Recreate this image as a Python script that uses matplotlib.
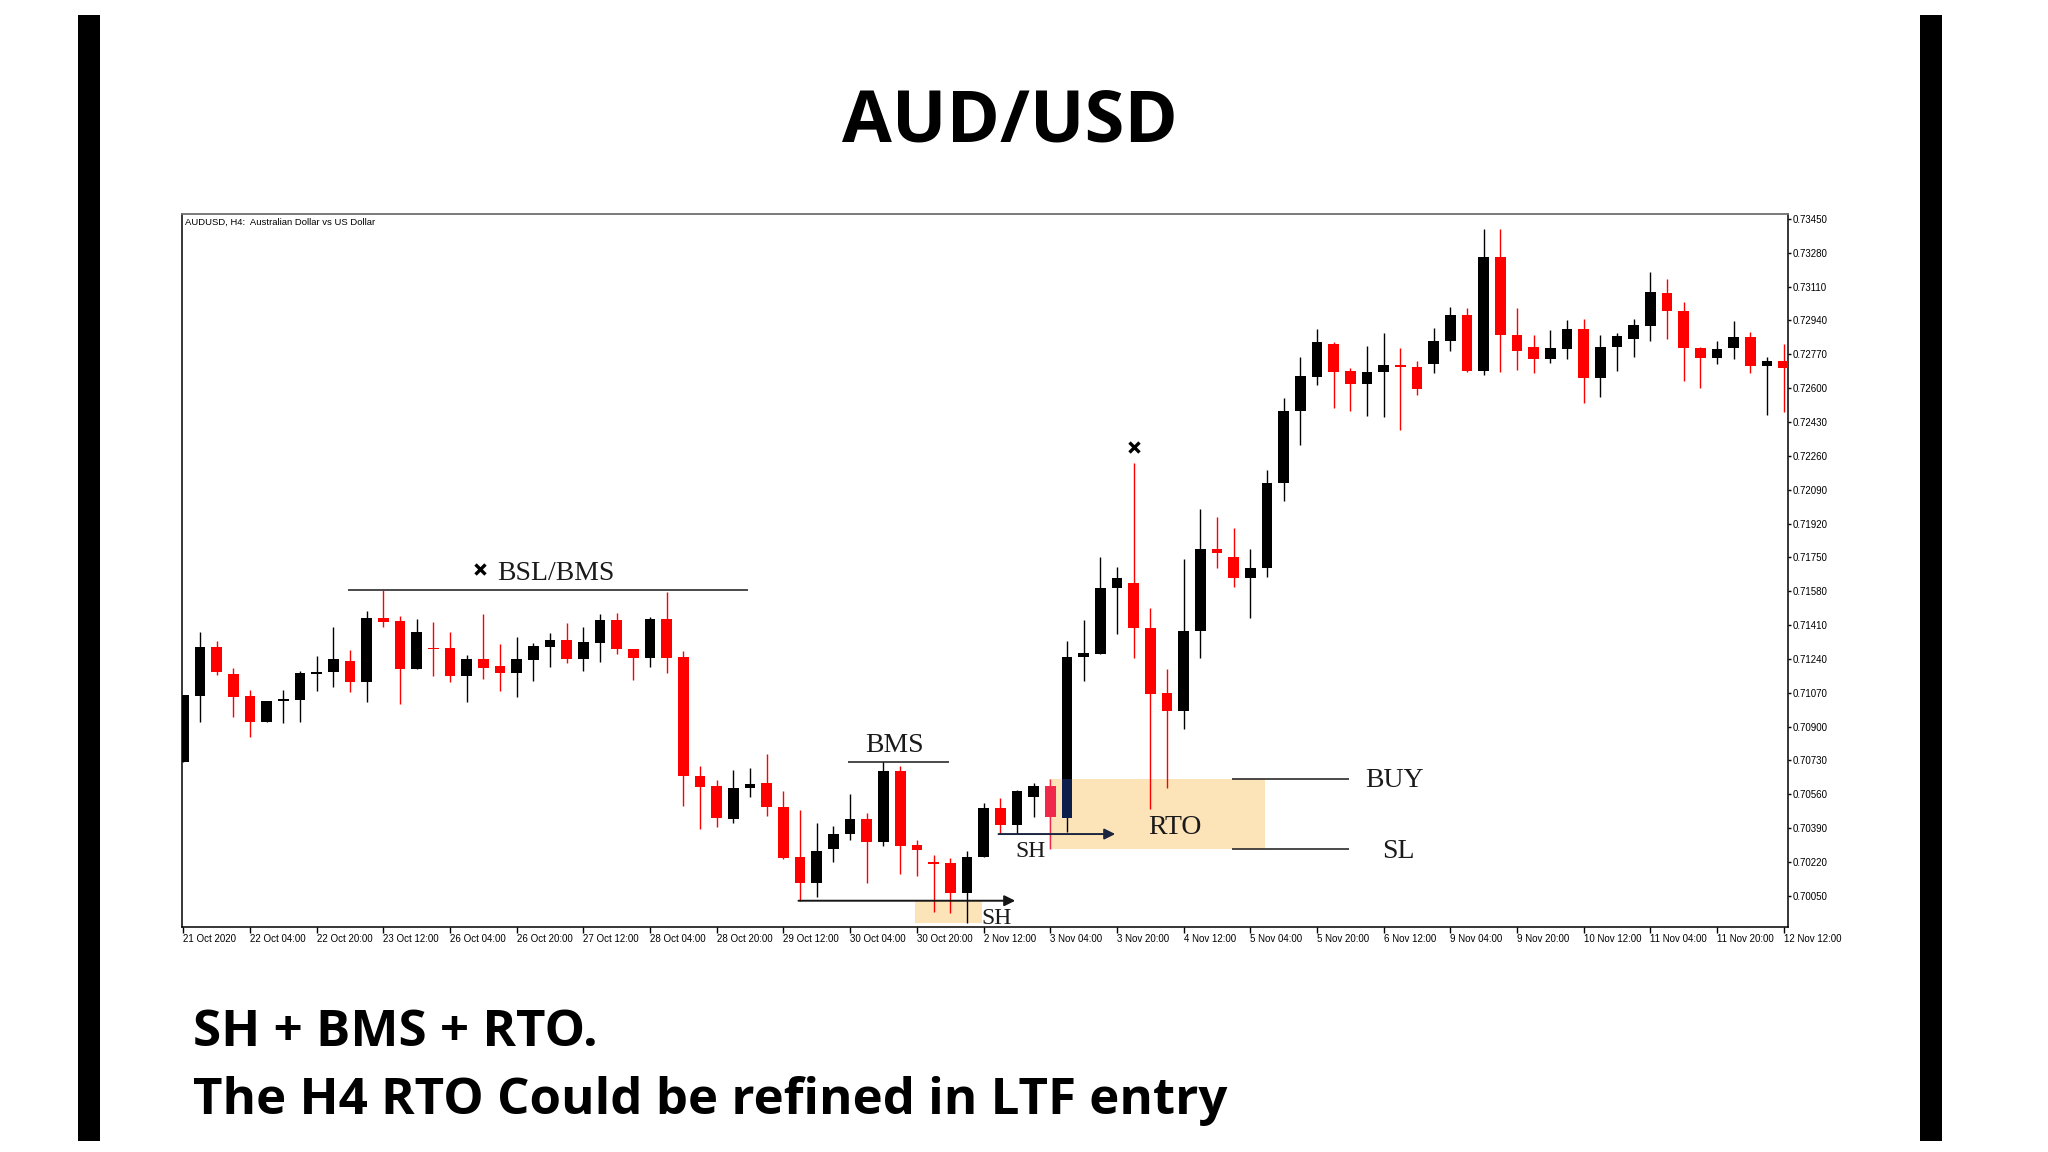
import matplotlib
matplotlib.use('Agg')
import matplotlib.pyplot as plt
from matplotlib.patches import Rectangle

plt.rcParams['font.family'] = ['Liberation Sans', 'DejaVu Sans']

# ---------------- data ----------------
x_labels = ['21 Oct 2020', '22 Oct 04:00', '22 Oct 20:00', '23 Oct 12:00', '26 Oct 04:00',
            '26 Oct 20:00', '27 Oct 12:00', '28 Oct 04:00', '28 Oct 20:00', '29 Oct 12:00',
            '30 Oct 04:00', '30 Oct 20:00', '2 Nov 12:00', '3 Nov 04:00', '3 Nov 20:00',
            '4 Nov 12:00', '5 Nov 04:00', '5 Nov 20:00', '6 Nov 12:00', '9 Nov 04:00',
            '9 Nov 20:00', '10 Nov 12:00', '11 Nov 04:00', '11 Nov 20:00', '12 Nov 12:00']

y_ticks = [0.70050, 0.70220, 0.70390, 0.70560, 0.70730, 0.70900, 0.71070, 0.71240,
           0.71410, 0.71580, 0.71750, 0.71920, 0.72090, 0.72260, 0.72430, 0.72600,
           0.72770, 0.72940, 0.73110, 0.73280, 0.73450]

opens = [0.70723, 0.71053, 0.71298, 0.71162, 0.71053, 0.70921, 0.71028, 0.71033, 0.71164, 0.71172,
         0.71231, 0.71125, 0.71444, 0.71430, 0.71189, 0.71293, 0.71293, 0.71154, 0.71239, 0.71204,
         0.71167, 0.71234, 0.71298, 0.71335, 0.71238, 0.71321, 0.71435, 0.71288, 0.71243, 0.71439,
         0.71248, 0.70653, 0.70601, 0.70434, 0.70590, 0.70618, 0.70498, 0.70246, 0.70112, 0.70285,
         0.70358, 0.70434, 0.70318, 0.70677, 0.70305, 0.70218, 0.70213, 0.70062, 0.70243, 0.70492,
         0.70405, 0.70548, 0.70601, 0.70442, 0.71248, 0.71263, 0.71594, 0.71623, 0.71397, 0.71067,
         0.70980, 0.71380, 0.71790, 0.71754, 0.71648, 0.71695, 0.72123, 0.72484, 0.72654, 0.72822,
         0.72688, 0.72621, 0.72680, 0.72716, 0.72708, 0.72721, 0.72839, 0.72969, 0.72688, 0.73257,
         0.72869, 0.72808, 0.72747, 0.72797, 0.72897, 0.72651, 0.72805, 0.72847, 0.72914, 0.73078,
         0.72989, 0.72802, 0.72752, 0.72800, 0.72855, 0.72710, 0.72738]
highs = [0.71058, 0.71377, 0.71331, 0.71192, 0.71084, 0.71030, 0.71084, 0.71179, 0.71256, 0.71399,
         0.71285, 0.71482, 0.71584, 0.71455, 0.71439, 0.71427, 0.71373, 0.71259, 0.71466, 0.71315,
         0.71352, 0.71318, 0.71372, 0.71419, 0.71399, 0.71466, 0.71472, 0.71290, 0.71449, 0.71574,
         0.71281, 0.70702, 0.70632, 0.70682, 0.70690, 0.70762, 0.70576, 0.70481, 0.70414, 0.70402,
         0.70561, 0.70464, 0.70724, 0.70702, 0.70330, 0.70255, 0.70241, 0.70276, 0.70518, 0.70539,
         0.70581, 0.70615, 0.70635, 0.71330, 0.71435, 0.71750, 0.71703, 0.72222, 0.71494, 0.71189,
         0.71740, 0.71991, 0.71955, 0.71896, 0.71790, 0.72189, 0.72551, 0.72758, 0.72897, 0.72834,
         0.72701, 0.72814, 0.72877, 0.72800, 0.72735, 0.72901, 0.73006, 0.73001, 0.73400, 0.73400,
         0.73001, 0.72869, 0.72892, 0.72943, 0.72948, 0.72869, 0.72876, 0.72948, 0.73182, 0.73149,
         0.73031, 0.72805, 0.72839, 0.72939, 0.72881, 0.72755, 0.72822]
lows = [0.70723, 0.70921, 0.71159, 0.70950, 0.70849, 0.70921, 0.70916, 0.70921, 0.71080, 0.71100,
        0.71072, 0.71022, 0.71402, 0.71013, 0.71189, 0.71154, 0.71122, 0.71025, 0.71137, 0.71080,
        0.71047, 0.71131, 0.71201, 0.71221, 0.71181, 0.71223, 0.71264, 0.71134, 0.71201, 0.71171,
        0.70501, 0.70384, 0.70397, 0.70414, 0.70548, 0.70451, 0.70233, 0.70025, 0.70045, 0.70221,
        0.70330, 0.70112, 0.70300, 0.70159, 0.70151, 0.69970, 0.69962, 0.69915, 0.70243, 0.70360,
        0.70360, 0.70444, 0.70283, 0.70372, 0.71129, 0.71262, 0.71363, 0.71243, 0.70484, 0.70593,
        0.70886, 0.71243, 0.71698, 0.71599, 0.71447, 0.71653, 0.72031, 0.72316, 0.72616, 0.72500,
        0.72487, 0.72458, 0.72453, 0.72390, 0.72567, 0.72676, 0.72788, 0.72680, 0.72668, 0.72680,
        0.72691, 0.72675, 0.72725, 0.72747, 0.72525, 0.72554, 0.72688, 0.72755, 0.72839, 0.72847,
        0.72638, 0.72601, 0.72721, 0.72747, 0.72675, 0.72465, 0.72479]
closes = [0.71058, 0.71298, 0.71176, 0.71050, 0.70921, 0.71030, 0.71037, 0.71167, 0.71172, 0.71238,
          0.71125, 0.71444, 0.71427, 0.71189, 0.71373, 0.71288, 0.71154, 0.71239, 0.71196, 0.71167,
          0.71238, 0.71305, 0.71335, 0.71238, 0.71326, 0.71435, 0.71288, 0.71243, 0.71439, 0.71243,
          0.70653, 0.70598, 0.70442, 0.70590, 0.70611, 0.70494, 0.70241, 0.70112, 0.70276, 0.70360,
          0.70434, 0.70322, 0.70677, 0.70300, 0.70280, 0.70209, 0.70062, 0.70246, 0.70492, 0.70405,
          0.70576, 0.70601, 0.70444, 0.71251, 0.71268, 0.71598, 0.71645, 0.71397, 0.71063, 0.70980,
          0.71382, 0.71790, 0.71774, 0.71648, 0.71695, 0.72125, 0.72487, 0.72659, 0.72834, 0.72683,
          0.72621, 0.72683, 0.72718, 0.72705, 0.72596, 0.72839, 0.72969, 0.72688, 0.73257, 0.72867,
          0.72788, 0.72747, 0.72802, 0.72897, 0.72651, 0.72808, 0.72864, 0.72917, 0.73085, 0.72989,
          0.72800, 0.72752, 0.72797, 0.72855, 0.72710, 0.72738, 0.72701]

# annotation levels / anchors (bar index, price)
bsl_level = highs[12]
bms_level = highs[42]
sh_low_level = lows[37]
sh_high_level = lows[49]
rto_top = 0.70639
rto_bottom = 0.70285
lower_zone_bottom = 0.69912
highlight_bar = 52
rally_bar = 53
wick_x_bar = 57

# ---------------- figure ----------------
W, H = 2048, 1152
fig = plt.figure(figsize=(W / 100, H / 100), dpi=100)
fig.patch.set_facecolor('white')

# decorative side bars
for x0 in (78, 1920):
    fig.patches.append(Rectangle((x0 / W, 1 - 1141 / H), 22 / W, 1126 / H,
                                 transform=fig.transFigure, facecolor='black',
                                 edgecolor='none'))

fig.text(1010 / W, 1 - 123 / H, 'AUD/USD', ha='center', va='center',
         fontsize=52, fontweight='bold', family=['Open Sans', 'DejaVu Sans'])

L_px, R_px, T_px, B_px = 181.7, 1788, 214, 927
ax = fig.add_axes([L_px / W, 1 - B_px / H, (R_px - L_px) / W, (B_px - T_px) / H])

n = len(opens)
body_w = 0.64
min_h = 0.00008
RED = '#FF0000'
BLACK = '#000000'

for i in range(n):
    o, h, l, c = opens[i], highs[i], lows[i], closes[i]
    col = BLACK if c >= o else RED
    if i == highlight_bar:
        col = '#F0284A'
    ax.vlines(i, l, h, color=col, lw=1.0, zorder=3)
    ax.bar(i, max(abs(c - o), min_h), bottom=min(o, c), width=body_w,
           color=col, linewidth=0, zorder=4)

# navy section of the rally candle inside the zone
o53 = opens[rally_bar]
ax.bar(rally_bar, rto_top - o53, bottom=o53, width=body_w, color='#0B1F4A',
       linewidth=0, zorder=5)

# zones
ax.add_patch(Rectangle((51.9, rto_bottom), 13.0, rto_top - rto_bottom,
                       facecolor='#FCE3B8', edgecolor='none', zorder=1))
ax.add_patch(Rectangle((43.9, lower_zone_bottom), 4.0, sh_low_level - lower_zone_bottom,
                       facecolor='#FCE3B8', edgecolor='none', zorder=1))

line_col = '#2b2b2b'
ax.hlines(bsl_level, 9.9, 33.9, color=line_col, lw=1.2, zorder=2)
ax.hlines(bms_level, 39.9, 45.9, color=line_col, lw=1.2, zorder=2)
ax.hlines(rto_top, 62.9, 69.9, color=line_col, lw=1.2, zorder=2)
ax.hlines(rto_bottom, 62.9, 69.9, color=line_col, lw=1.2, zorder=2)

ax.annotate('', xy=(49.9, sh_low_level), xytext=(36.9, sh_low_level),
            arrowprops=dict(arrowstyle='-|>', color='#151515', lw=1.4,
                            shrinkA=0, shrinkB=0, mutation_scale=16), zorder=6)
ax.annotate('', xy=(55.9, sh_high_level), xytext=(48.9, sh_high_level),
            arrowprops=dict(arrowstyle='-|>', color='#1C2540', lw=1.4,
                            shrinkA=0, shrinkB=0, mutation_scale=16), zorder=6)

serif = ['Liberation Serif', 'DejaVu Serif']
tcol = '#1a1a1a'
ax.plot([17.8], [0.71692], marker='x', ms=7, mew=2.4, color='black', zorder=6)
ax.text(18.8, 0.71668, 'BSL/BMS', ha='left', va='center', fontsize=20, family=serif, color=tcol)
ax.text(42.66, 0.70803, 'BMS', ha='center', va='center', fontsize=20, family=serif, color=tcol)
ax.text(48.8, 0.69936, 'SH', ha='center', va='center', fontsize=17, family=serif, color=tcol)
ax.text(50.8, 0.70273, 'SH', ha='center', va='center', fontsize=17, family=serif, color=tcol)
ax.text(59.5, 0.70392, 'RTO', ha='center', va='center', fontsize=20, family=serif, color=tcol)
ax.text(70.9, 0.70628, 'BUY', ha='left', va='center', fontsize=20, family=serif, color=tcol)
ax.text(71.9, 0.70273, 'SL', ha='left', va='center', fontsize=20, family=serif, color=tcol)
ax.plot([wick_x_bar], [0.72306], marker='x', ms=7, mew=2.4, color='black', zorder=6)

# axes
ax.set_xlim(-0.1, 96.26)
ax.set_ylim(0.69893, 0.73475)
ax.set_xticks(range(0, n, 4))
ax.set_xticklabels(x_labels, ha='left', fontsize=7)
ax.set_yticks(y_ticks)
ax.set_yticklabels(['%.5f' % v for v in y_ticks], fontsize=7)
ax.yaxis.tick_right()
ax.tick_params(axis='y', direction='out', length=2.5, width=1, pad=0.5, colors='black')
ax.tick_params(axis='x', direction='out', length=4.3, width=1, pad=0.6, colors='black')
for s in ('left', 'right', 'bottom'):
    ax.spines[s].set_color('black')
    ax.spines[s].set_linewidth(1.1)
ax.spines['top'].set_color('#707070')
ax.spines['top'].set_linewidth(1.3)

fig.text(185 / W, 1 - 222 / H, 'AUDUSD, H4:  Australian Dollar vs US Dollar',
         ha='left', va='center', fontsize=6.8, color='black')

bold = ['Open Sans', 'DejaVu Sans']
fig.text(193 / W, 1 - 1033 / H, 'SH + BMS + RTO.', ha='left', va='center',
         fontsize=36.7, fontweight='bold', family=bold)
fig.text(193 / W, 1 - 1101 / H, 'The H4 RTO Could be refined in LTF entry', ha='left',
         va='center', fontsize=36.7, fontweight='bold', family=bold)

fig.savefig('out.png', dpi=100, facecolor='white')
